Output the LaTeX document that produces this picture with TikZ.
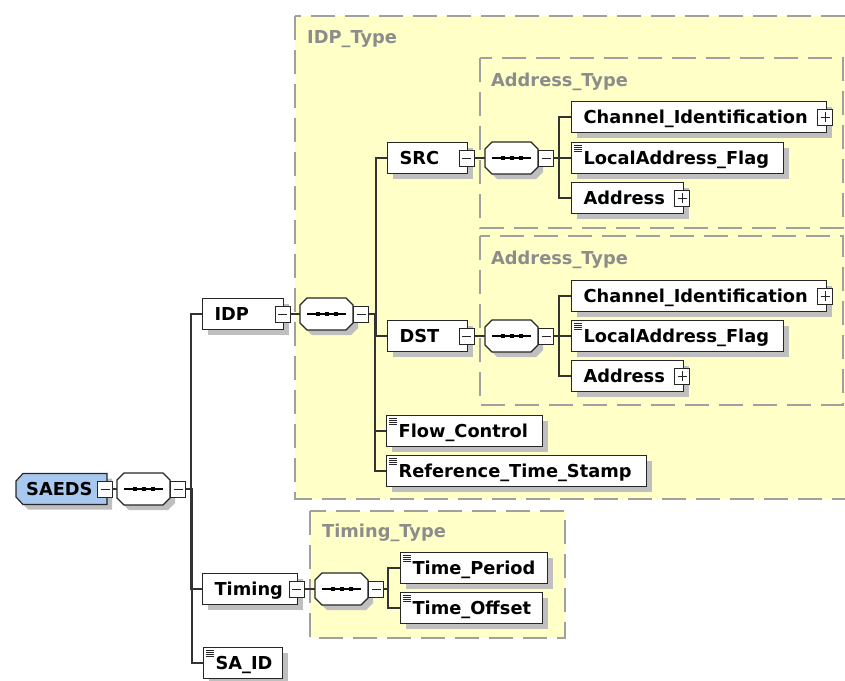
\documentclass[tikz,border=0pt]{standalone}
\usepackage{fontspec}
\setmainfont{DejaVu Sans}
\usetikzlibrary{shadows}
\definecolor{typefill}{HTML}{FFFFC8}
\definecolor{typeline}{HTML}{A0A0A0}
\definecolor{typetext}{HTML}{8C8C8C}
\definecolor{rootfill}{HTML}{A8C8F0}
\tikzset{
  elemshadow/.style={drop shadow={shadow xshift=5pt,shadow yshift=-5pt,fill=black!25,opacity=1}},
  elemfont/.style={font=\fontsize{17.8pt}{20pt}\selectfont\bfseries},
  elem/.style={draw=black!85,line width=1.2pt,fill=white,elemshadow,anchor=west,elemfont,
    minimum height=31pt,inner xsep=12pt,inner ysep=0pt,text height=13pt,text depth=0pt,
    execute at begin node={\hbox to #1\bgroup},execute at end node={\hfil\egroup}},
  leaf/.style={elem=#1,path picture={
    \foreach \k in {0,...,3}
      \draw[line width=0.9pt] ([shift={(2.5pt,{-2.5pt-2pt*\k})}]path picture bounding box.north west) -- ++(8pt,0);}},
  outline/.style={draw=black!85,line width=1.2pt},
  roottext/.style={anchor=west,elemfont,minimum width=91pt,minimum height=31pt,
    inner xsep=10pt,inner ysep=0pt,text height=13pt,text depth=0pt,
    execute at begin node={\hbox to 71pt\bgroup},execute at end node={\hfil\egroup}},
  fold/.style={draw=black!85,line width=1pt,fill=white,minimum width=15pt,minimum height=16pt,inner sep=0pt,
    path picture={\draw[line width=1pt] ([xshift=3pt]path picture bounding box.west) -- ([xshift=-3pt]path picture bounding box.east);}},
  unfold/.style={fold,path picture={
    \draw[line width=1pt] ([xshift=3pt]path picture bounding box.west) -- ([xshift=-3pt]path picture bounding box.east);
    \draw[line width=1pt] ([yshift=3pt]path picture bounding box.south) -- ([yshift=-3pt]path picture bounding box.north);}},
  pics/seqbox/.style={code={
    \draw[outline,fill=white,elemshadow] (0,-9) -- (7,-16) -- (46,-16) -- (53,-9) -- (53,9) -- (46,16) -- (7,16) -- (0,9) -- cycle;
    \draw[line width=1.2pt] (7,0) -- (46,0);
    \foreach \d in {17.5,26.5,35.5}
      \fill (\d,0) +(-2,-2) rectangle +(2,2);
    \coordinate (-w) at (0,0);
    \node[fold,anchor=west] (-f) at (53,0) {};}},
  typebox/.style={draw=typeline,line width=1.5pt,dash pattern=on 24pt off 10pt,fill=typefill},
  typelabel/.style={anchor=west,inner sep=0pt,text=typetext,elemfont},
  link/.style={draw=black!80,line width=1.3pt},
}
\begin{document}
\begin{tikzpicture}[x=1pt,y=-1pt]
  \useasboundingbox (0,0) rectangle (845,680);
  % complex types
  \draw[typebox] (295,16) rectangle (852,499);
  \draw[typebox] (480,58) rectangle (843,228);
  \draw[typebox] (480,236) rectangle (843,405);
  \draw[typebox] (310,511) rectangle (565,638);
  \node[typelabel] (idptype) at (307,39) {IDP\_Type};
  \node[typelabel] (srctype) at (491,82) {Address\_Type};
  \node[typelabel] (dsttype) at (491,260) {Address\_Type};
  \node[typelabel] (timtype) at (322,533) {Timing\_Type};

  % root
  \draw[outline,fill=rootfill,elemshadow] (16,481) -- (23,473.5) -- (107,473.5) -- (107,504.5) -- (23,504.5) -- (16,497) -- cycle;
  \node[roottext] (saeds) at (16,489) {SAEDS};
  \node[fold] (saedsf) at ([xshift=-2pt]saeds.east) {};
  \pic (q1) at (117,489) {seqbox};

  % level 1
  \node[elem=57pt] (idp) at (202,314) {IDP};
  \node[fold] (idpf) at ([xshift=-1.5pt]idp.east) {};
  \pic (q2) at (300,314) {seqbox};
  \node[elem=71pt] (timing) at (202,589) {Timing};
  \node[fold] (timingf) at ([xshift=-1.5pt]timing.east) {};
  \pic (q5) at (315,589) {seqbox};
  \node[leaf=55pt] (said) at (203,663) {SA\_ID};

  % IDP children
  \node[elem=56pt] (src) at (387,158) {SRC};
  \node[fold] (srcf) at ([xshift=-1.5pt]src.east) {};
  \pic (q3) at (485,158) {seqbox};
  \node[elem=56pt] (dst) at (387,336) {DST};
  \node[fold] (dstf) at ([xshift=-1.5pt]dst.east) {};
  \pic (q4) at (485,336) {seqbox};
  \node[leaf=132pt] (flow) at (386,431) {Flow\_Control};
  \node[leaf=236pt] (ref) at (386,471) {Reference\_Time\_Stamp};

  % Address_Type children
  \node[elem=231pt] (ci1) at (571,117) {Channel\_Identification};
  \node[unfold] (ci1u) at ([xshift=-2pt]ci1.east) {};
  \node[leaf=188pt] (laf1) at (571,158) {LocalAddress\_Flag};
  \node[elem=88pt] (addr1) at (571,198) {Address};
  \node[unfold] (addr1u) at ([xshift=-2pt]addr1.east) {};
  \node[elem=231pt] (ci2) at (571,296) {Channel\_Identification};
  \node[unfold] (ci2u) at ([xshift=-2pt]ci2.east) {};
  \node[leaf=188pt] (laf2) at (571,336) {LocalAddress\_Flag};
  \node[elem=88pt] (addr2) at (571,376) {Address};
  \node[unfold] (addr2u) at ([xshift=-2pt]addr2.east) {};

  % Timing_Type children
  \node[leaf=123pt] (tp) at (400,568) {Time\_Period};
  \node[leaf=118pt] (to) at (400,608) {Time\_Offset};

  % connectors
  \draw[link] (saedsf.east) -- (q1-w);
  \draw[link] (idpf.east) -- (q2-w);
  \draw[link] (timingf.east) -- (q5-w);
  \draw[link] (srcf.east) -- (q3-w);
  \draw[link] (dstf.east) -- (q4-w);
  \foreach \c in {idp,timing,said}
    \draw[link] (q1-f.east) -| ([xshift=-11pt]\c.west) -- (\c.west);
  \foreach \c in {src,dst,flow,ref}
    \draw[link] (q2-f.east) -| ([xshift=-11pt]\c.west) -- (\c.west);
  \foreach \c in {ci1,laf1,addr1}
    \draw[link] (q3-f.east) -| ([xshift=-12pt]\c.west) -- (\c.west);
  \foreach \c in {ci2,laf2,addr2}
    \draw[link] (q4-f.east) -| ([xshift=-12pt]\c.west) -- (\c.west);
  \foreach \c in {tp,to}
    \draw[link] (q5-f.east) -| ([xshift=-12pt]\c.west) -- (\c.west);
\end{tikzpicture}
\end{document}
